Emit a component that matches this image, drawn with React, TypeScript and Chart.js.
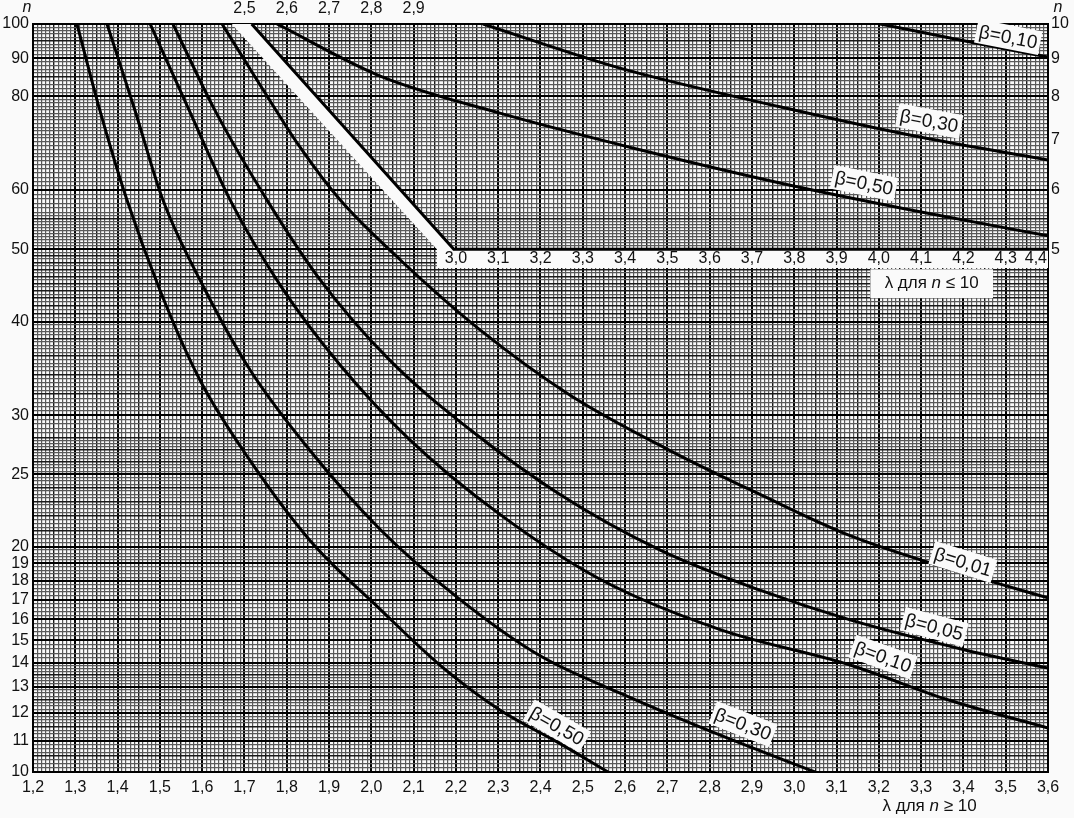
import React, { useEffect, useRef } from 'react';
import { Chart, registerables } from 'chart.js';
Chart.register(...registerables);

const FONT = '"Liberation Sans", Arial, Helvetica, sans-serif';
const BG = '#fafafa';
const INK = '#111';

// ---- main axes (λ for n ≥ 10) ----
const X_MIN = 1.2, X_MAX = 3.6, Y_MIN = 10, Y_MAX = 100;
const xLabels = [1.2, 1.3, 1.4, 1.5, 1.6, 1.7, 1.8, 1.9, 2.0, 2.1, 2.2, 2.3, 2.4, 2.5, 2.6, 2.7, 2.8, 2.9, 3.0, 3.1, 3.2, 3.3, 3.4, 3.5, 3.6];
const yLabels = [10, 11, 12, 13, 14, 15, 16, 17, 18, 19, 20, 25, 30, 35, 40, 50, 60, 70, 80, 90, 100];
const xGridStep = 0.01;
const yGridBands = [
  { from: 10, to: 14, step: 0.125 },
  { from: 14, to: 20, step: 0.2 },
  { from: 20, to: 28, step: 0.25 },
  { from: 28, to: 40, step: 0.4 },
  { from: 40, to: 56, step: 0.5 },
  { from: 56, to: 80, step: 0.8 },
  { from: 80, to: 100, step: 1 },
];

// ---- inset axes (λ for n ≤ 10) ----
const IX_MIN = 2.0, IX_MAX = 4.4, IY_MIN = 1, IY_MAX = 10;
const insetXLabels = [3.0, 3.1, 3.2, 3.3, 3.4, 3.5, 3.6, 3.7, 3.8, 3.9, 4.0, 4.1, 4.2, 4.3, 4.4];
const insetTopLabels = [2.5, 2.6, 2.7, 2.8, 2.9];
const insetYLabels = [5, 6, 7, 8, 9, 10];

// ---- main curves ----
const lamB050 = [1.304, 1.358, 1.422, 1.500, 1.595, 1.713, 1.855, 2.021, 2.162, 2.304, 2.439, 2.560];
const nB050 = [100, 76.7, 58.2, 44.1, 33.4, 26.1, 20.4, 16.5, 13.9, 12.1, 10.97, 10];
const lamB030 = [1.375, 1.441, 1.507, 1.607, 1.713, 1.855, 2.021, 2.210, 2.399, 2.595, 2.825, 3.049];
const nB030 = [100, 76.7, 58.2, 44.1, 34.5, 26.9, 21.1, 17.0, 14.3, 12.7, 11.2, 10];
const lamB010 = [1.477, 1.571, 1.666, 1.784, 1.926, 2.091, 2.304, 2.541, 2.825, 3.132, 3.361, 3.6];
const nB010 = [100, 76.3, 58.2, 44.8, 35.0, 27.8, 22.1, 18.1, 15.5, 13.9, 12.5, 11.45];
const lamB005 = [1.531, 1.630, 1.753, 1.879, 2.044, 2.233, 2.446, 2.683, 2.919, 3.132, 3.404, 3.6];
const nB005 = [100, 76.7, 58.2, 45.5, 35.5, 28.7, 23.5, 19.8, 17.5, 15.97, 14.56, 13.77];
const lamB001 = [1.647, 1.737, 1.831, 1.926, 2.068, 2.257, 2.470, 2.706, 2.919, 3.132, 3.392, 3.6];
const nB001 = [100, 82.9, 68.5, 58.2, 48.4, 39.0, 31.9, 26.9, 23.5, 20.7, 18.5, 17.09];

// ---- inset curves ----
const iLamB050 = [2.577, 2.821, 3.104, 3.435, 3.766, 4.097, 4.4];
const iNB050 = [10, 8.52, 7.60, 6.79, 6.13, 5.61, 5.21];
const iLamB030 = [3.064, 3.388, 3.766, 4.097, 4.4];
const iNB030 = [10, 8.73, 7.75, 7.06, 6.58];
const iLamB010 = [4.003, 4.192, 4.4];
const iNB010 = [10, 9.52, 9.03];

// inset boundary (thick line) and white band
const boundaryLam = [2.517, 2.995, 4.4];
const boundaryN = [10, 5, 5];
const bandLam = [2.47, 2.517, 2.995, 4.4, 4.4, 2.955, 2.955];
const bandN = [10, 10, 5, 5, 4.72, 4.72, 5];
const insetTickRowN = 4.86;
const insetTitleBox = { lam0: 3.98, lam1: 4.27, n0: 4.70, n1: 4.30 };

const mainCurves = [
  { lam: lamB050, n: nB050 },
  { lam: lamB030, n: nB030 },
  { lam: lamB010, n: nB010 },
  { lam: lamB005, n: nB005 },
  { lam: lamB001, n: nB001 },
];
const insetCurves = [
  { lam: iLamB050, n: iNB050 },
  { lam: iLamB030, n: iNB030 },
  { lam: iLamB010, n: iNB010 },
];

const curveLabels = [
  { text: 'β=0,50', inset: false, curve: 0, lam: 2.439, n: 11.52 },
  { text: 'β=0,30', inset: false, curve: 1, lam: 2.879, n: 11.59 },
  { text: 'β=0,10', inset: false, curve: 2, lam: 3.210, n: 14.25 },
  { text: 'β=0,05', inset: false, curve: 3, lam: 3.331, n: 15.63 },
  { text: 'β=0,01', inset: false, curve: 4, lam: 3.399, n: 19.09 },
  { text: 'β=0,50', inset: true, curve: 0, lam: 3.965, n: 6.126 },
  { text: 'β=0,30', inset: true, curve: 1, lam: 4.119, n: 7.42 },
  { text: 'β=0,10', inset: true, curve: 2, lam: 4.306, n: 9.608 },
];

const fmt = (v: number) => v.toFixed(1).replace('.', ',');
const near = (v: number, arr: number[]) => arr.some((a) => Math.abs(a - v) < 1e-6);

function buildXGrid() {
  const out: number[] = [];
  const a = Math.round(X_MIN / xGridStep), b = Math.round(X_MAX / xGridStep);
  for (let i = a; i <= b; i++) out.push(Math.round(i * xGridStep * 100) / 100);
  return out;
}
function buildYGrid() {
  const s = new Set<number>();
  for (const band of yGridBands) {
    const k = Math.round((band.to - band.from) / band.step);
    for (let i = 0; i <= k; i++) s.add(Math.round((band.from + i * band.step) * 1000) / 1000);
  }
  return Array.from(s).sort((a, b) => a - b);
}
const xGrid = buildXGrid();
const yGrid = buildYGrid();

const isInt = (v: number) => Math.abs(v - Math.round(v)) < 1e-6;
function xGridStyle(v: number) {
  const i = Math.round(v * 100);
  if (i % 10 === 0) return { c: '#000', w: 2 };
  if (i % 5 === 0) return { c: '#1a1a1a', w: 1.4 };
  return { c: '#5a5a5a', w: 1.2 };
}
function yGridStyle(v: number) {
  if (near(v, yLabels)) return { c: '#000', w: 2 };
  if ((v < 20 && isInt(v * 2)) || (v > 20 && v < 50 && isInt(v)) || (v > 50 && isInt(v / 5)))
    return { c: '#1a1a1a', w: 1.4 };
  return { c: '#5a5a5a', w: 1.2 };
}

function curvePixels(chart: any, c: { lam: number[]; n: number[] }, inset: boolean) {
  const xs = chart.scales[inset ? 'x2' : 'x'];
  const ys = chart.scales[inset ? 'y2' : 'y'];
  return c.lam.map((l, i) => [xs.getPixelForValue(l), ys.getPixelForValue(c.n[i])]);
}
function yAt(pts: number[][], px: number) {
  for (let i = 0; i < pts.length - 1; i++) {
    const [x0, y0] = pts[i], [x1, y1] = pts[i + 1];
    if (px >= x0 && px <= x1) return y0 + ((px - x0) / (x1 - x0)) * (y1 - y0);
  }
  return px < pts[0][0] ? pts[0][1] : pts[pts.length - 1][1];
}

const nomogramPlugin = {
  id: 'nomogram',
  beforeDatasetsDraw(chart: any) {
    const { ctx, chartArea } = chart;
    const xs = chart.scales.x2, ys = chart.scales.y2;
    ctx.save();
    ctx.beginPath();
    ctx.rect(chartArea.left, chartArea.top, chartArea.right - chartArea.left, chartArea.bottom - chartArea.top);
    ctx.clip();
    ctx.fillStyle = BG;
    ctx.beginPath();
    bandLam.forEach((l, i) => {
      const px = xs.getPixelForValue(l), py = ys.getPixelForValue(bandN[i]);
      if (i === 0) ctx.moveTo(px, py); else ctx.lineTo(px, py);
    });
    ctx.closePath();
    ctx.fill();
    const bx0 = xs.getPixelForValue(insetTitleBox.lam0), bx1 = xs.getPixelForValue(insetTitleBox.lam1);
    const by0 = ys.getPixelForValue(insetTitleBox.n0), by1 = ys.getPixelForValue(insetTitleBox.n1);
    ctx.fillRect(bx0, by0, bx1 - bx0, by1 - by0);
    ctx.restore();
  },
  afterDatasetsDraw(chart: any) {
    const { ctx, chartArea } = chart;
    const xs2 = chart.scales.x2, ys2 = chart.scales.y2;
    ctx.save();
    // curve labels
    ctx.font = `19px ${FONT}`;
    for (const lb of curveLabels) {
      const c = lb.inset ? insetCurves[lb.curve] : mainCurves[lb.curve];
      const pts = curvePixels(chart, c, lb.inset);
      const xs = chart.scales[lb.inset ? 'x2' : 'x'];
      const ys = chart.scales[lb.inset ? 'y2' : 'y'];
      const px = xs.getPixelForValue(lb.lam), py = ys.getPixelForValue(lb.n);
      const a = Math.atan2(yAt(pts, px + 18) - yAt(pts, px - 18), 36);
      const w = ctx.measureText(lb.text).width;
      ctx.save();
      ctx.translate(px, py);
      ctx.rotate(a);
      ctx.fillStyle = BG;
      ctx.fillRect(-w / 2 - 3, -12, w + 6, 24);
      ctx.fillStyle = INK;
      ctx.textAlign = 'center';
      ctx.textBaseline = 'middle';
      ctx.fillText(lb.text, 0, 1);
      ctx.restore();
    }
    // inset x tick labels
    ctx.font = `16px ${FONT}`;
    ctx.fillStyle = INK;
    ctx.textBaseline = 'middle';
    const rowY = ys2.getPixelForValue(insetTickRowN);
    insetXLabels.forEach((v) => {
      const px = xs2.getPixelForValue(v);
      const t = fmt(v);
      const w = ctx.measureText(t).width;
      if (px + w / 2 > chartArea.right - 1) {
        ctx.textAlign = 'right';
        ctx.fillText(t, chartArea.right - 1, rowY);
      } else {
        ctx.textAlign = 'center';
        ctx.fillText(t, px, rowY);
      }
    });
    // titles with italic n
    const drawMixed = (parts: [string, boolean][], cx: number, cy: number, size: number) => {
      const fonts = parts.map(([, it]) => `${it ? 'italic ' : ''}${size}px ${FONT}`);
      let total = 0;
      const widths = parts.map(([t], i) => { ctx.font = fonts[i]; const w = ctx.measureText(t).width; total += w; return w; });
      let x = cx - total / 2;
      ctx.textAlign = 'left';
      ctx.textBaseline = 'middle';
      parts.forEach(([t], i) => { ctx.font = fonts[i]; ctx.fillText(t, x, cy); x += widths[i]; });
    };
    const boxCx = (xs2.getPixelForValue(insetTitleBox.lam0) + xs2.getPixelForValue(insetTitleBox.lam1)) / 2;
    const boxCy = (ys2.getPixelForValue(insetTitleBox.n0) + ys2.getPixelForValue(insetTitleBox.n1)) / 2;
    drawMixed([['λ для ', false], ['n', true], [' ≤ 10', false]], boxCx, boxCy, 17);
    drawMixed([['λ для ', false], ['n', true], [' ≥ 10', false]], chart.scales.x.getPixelForValue(3.32), chartArea.bottom + 34, 17);
    // axis names
    ctx.font = `italic 16px ${FONT}`;
    ctx.textAlign = 'center';
    ctx.fillText('n', chartArea.left - 6, 8);
    ctx.fillText('n', chartArea.right + 10, 8);
    ctx.restore();
  },
};

export default function App() {
  const ref = useRef<HTMLCanvasElement | null>(null);
  useEffect(() => {
    if (!ref.current) return;
    const line = (d: { lam: number[]; n: number[] }, inset: boolean, mono = true) => ({
      type: 'line' as const,
      data: d.lam.map((x, i) => ({ x, y: d.n[i] })),
      xAxisID: inset ? 'x2' : 'x',
      yAxisID: inset ? 'y2' : 'y',
      borderColor: '#000',
      borderWidth: 3,
      pointRadius: 0,
      fill: false,
      cubicInterpolationMode: mono ? ('monotone' as const) : ('default' as const),
      tension: mono ? 0.4 : 0,
    });
    const tickFont = { family: FONT, size: 16 };
    const chart = new Chart(ref.current, {
      type: 'line',
      data: {
        datasets: [
          ...mainCurves.map((c) => line(c, false)),
          ...insetCurves.map((c) => line(c, true)),
          line({ lam: boundaryLam, n: boundaryN }, true, false),
        ] as any,
      },
      options: {
        animation: false,
        responsive: false,
        devicePixelRatio: 1,
        events: [],
        layout: { padding: 0 },
        plugins: { legend: { display: false }, tooltip: { enabled: false }, title: { display: false } },
        scales: {
          x: {
            type: 'linear', position: 'bottom', min: X_MIN, max: X_MAX,
            afterBuildTicks: (s: any) => { s.ticks = xGrid.map((v) => ({ value: v })); },
            afterFit: (s: any) => { s.height = 46; },
            ticks: {
              autoSkip: false, maxRotation: 0, minRotation: 0, padding: 6, color: INK, font: tickFont,
              callback: (v: any) => (near(Number(v), xLabels) ? fmt(Number(v)) : ''),
            },
            grid: {
              drawTicks: false,
              color: (c: any) => xGridStyle(c.tick.value).c,
              lineWidth: (c: any) => xGridStyle(c.tick.value).w,
            },
            border: { display: true, color: '#000', width: 2 },
          },
          y: {
            type: 'logarithmic', position: 'left', min: Y_MIN, max: Y_MAX,
            afterBuildTicks: (s: any) => { s.ticks = yGrid.map((v) => ({ value: v })); },
            afterFit: (s: any) => { s.width = 33; },
            ticks: {
              autoSkip: false, padding: 4, color: INK, font: tickFont,
              callback: (v: any) => (near(Number(v), yLabels) ? String(Math.round(Number(v))) : ''),
            },
            grid: {
              drawTicks: false,
              color: (c: any) => yGridStyle(c.tick.value).c,
              lineWidth: (c: any) => yGridStyle(c.tick.value).w,
            },
            border: { display: true, color: '#000', width: 2 },
          },
          x2: {
            type: 'linear', position: 'top', min: IX_MIN, max: IX_MAX,
            afterBuildTicks: (s: any) => { s.ticks = insetTopLabels.map((v) => ({ value: v })); },
            afterFit: (s: any) => { s.height = 24; },
            ticks: { autoSkip: false, maxRotation: 0, padding: 6, color: INK, font: tickFont, callback: (v: any) => fmt(Number(v)) },
            grid: { display: false, drawTicks: false },
            border: { display: true, color: '#000', width: 2 },
          },
          y2: {
            type: 'logarithmic', position: 'right', min: IY_MIN, max: IY_MAX,
            afterBuildTicks: (s: any) => { s.ticks = insetYLabels.map((v) => ({ value: v })); },
            afterFit: (s: any) => { s.width = 26; },
            ticks: { autoSkip: false, padding: 3, color: INK, font: tickFont, callback: (v: any) => String(Math.round(Number(v))) },
            grid: { display: false, drawTicks: false },
            border: { display: true, color: '#000', width: 2 },
          },
        },
      } as any,
      plugins: [nomogramPlugin],
    });
    return () => chart.destroy();
  }, []);
  return (
    <div style={{ position: 'fixed', left: 0, top: 0, width: 1074, height: 818, background: BG }}>
      <canvas ref={ref} width={1074} height={818} style={{ display: 'block', width: 1074, height: 818 }} />
    </div>
  );
}
